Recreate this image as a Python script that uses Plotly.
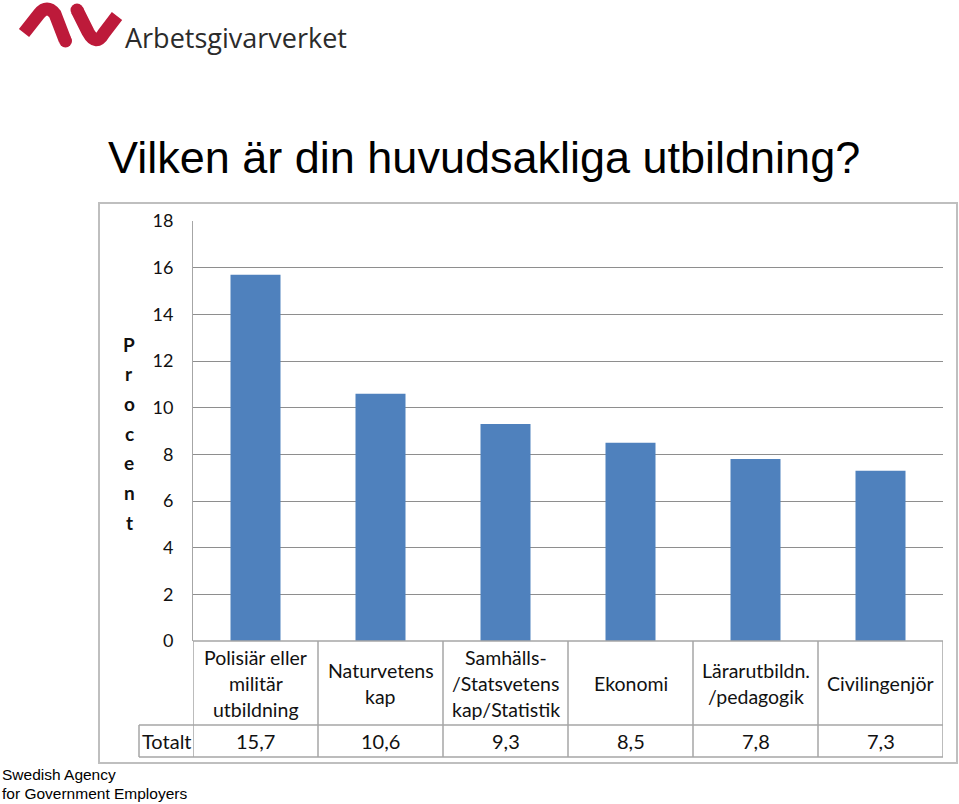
import plotly.graph_objects as go

W, H = 959, 804

categories = ["Polisiär eller<br>militär<br>utbildning", "Naturvetens<br>kap",
              "Samhälls-<br>/Statsvetens<br>kap/Statistik", "Ekonomi",
              "Lärarutbildn.<br>/pedagogik", "Civilingenjör"]
values = [15.7, 10.6, 9.3, 8.5, 7.8, 7.3]
value_labels = ["15,7", "10,6", "9,3", "8,5", "7,8", "7,3"]
y_ticks = [0, 2, 4, 6, 8, 10, 12, 14, 16, 18]
row_label = "Totalt"
y_title = "Procent"
title = "Vilken är din huvudsakliga utbildning?"
logo_text = "Arbetsgivarverket"
footer = ["Swedish Agency", "for Government Employers"]

def px(x):
    return x / W

def py(y):
    return 1 - y / H

PL, PR, PT, PB = 193, 943, 221, 641
ROW1_B, ROW2_B = 725, 757
TOT_L = 139

n = len(categories)
xs = list(range(n))

fig = go.Figure()
fig.add_trace(go.Bar(x=xs, y=values, width=0.4, marker_color="#4F81BD",
                     marker_line_width=0, hoverinfo="skip"))

font_cal = "Lato, Carlito, Calibri, sans-serif"
grid_col = "#8E8E8E"
tbl_col = "#A6A6A6"
txt_col = "#111111"

fig.update_layout(
    width=W, height=H, margin=dict(l=0, r=0, t=0, b=0, pad=0, autoexpand=False),
    paper_bgcolor="white", plot_bgcolor="white", showlegend=False,
    xaxis=dict(domain=[px(PL), px(PR)], range=[-0.5, n - 0.5], automargin=False,
               showticklabels=False, showgrid=False, zeroline=False,
               showline=False, fixedrange=True),
    yaxis=dict(domain=[py(PB), py(PT)], range=[0, 18], tickvals=y_ticks, automargin=False,
               ticktext=[str(v) for v in y_ticks], showgrid=True,
               gridcolor=grid_col, gridwidth=1, zeroline=False,
               showline=True, linecolor=tbl_col, linewidth=1,
               ticks="", ticklabelstandoff=15,
               tickfont=dict(family=font_cal, size=18, color=txt_col)),
)

shapes = []
shapes.append(dict(type="rect", xref="paper", yref="paper",
                   x0=px(99), x1=px(957), y0=py(763), y1=py(203),
                   line=dict(color="#BFBFBF", width=2)))
for yy, x0 in [(PB, PL), (ROW1_B, TOT_L), (ROW2_B, TOT_L)]:
    shapes.append(dict(type="line", xref="paper", yref="paper",
                       x0=px(x0), x1=px(PR), y0=py(yy), y1=py(yy),
                       line=dict(color=tbl_col, width=1.5)))
for i in range(n + 1):
    shapes.append(dict(type="line", xref="x", yref="paper",
                       x0=i - 0.5, x1=i - 0.5, y0=py(PB), y1=py(ROW2_B),
                       line=dict(color=tbl_col, width=1.5)))
shapes.append(dict(type="line", xref="paper", yref="paper",
                   x0=px(TOT_L), x1=px(TOT_L), y0=py(ROW1_B), y1=py(ROW2_B),
                   line=dict(color=tbl_col, width=1.5)))

# logo marks (pixel coords -> paper)
red = "#BD1A3A"
def pth(cmds):
    out = []
    for c in cmds:
        if isinstance(c, str):
            out.append(c)
        else:
            out.append("{:.5f},{:.5f}".format(px(c[0]), py(c[1])))
    return " ".join(out)

shapes.append(dict(type="path", xref="paper", yref="paper",
                   path=pth(["M", (24, 33), "L", (39, 14), "Q", (47, 4), (55, 14), "L", (65, 40)]),
                   line=dict(color=red, width=13)))
shapes.append(dict(type="path", xref="paper", yref="paper",
                   path=pth(["M", (77, 10), "L", (88, 32), "Q", (96, 47), (104, 33), "L", (117, 16)]),
                   line=dict(color=red, width=13)))
for cx, cy, r in [(65.5, 41, 6.5), (77, 10, 6.5)]:
    shapes.append(dict(type="circle", xref="paper", yref="paper",
                       x0=px(cx - r), x1=px(cx + r), y0=py(cy + r), y1=py(cy - r),
                       fillcolor=red, line=dict(width=0)))
fig.update_layout(shapes=shapes)

ann = []
row1_c = (PB + ROW1_B) / 2
lh = 26
for i, lab in enumerate(categories):
    lines = lab.split("<br>")
    k = len(lines)
    for j, ln in enumerate(lines):
        yc = row1_c + lh * (j - (k - 1) / 2)
        ann.append(dict(x=i, y=py(yc), xref="x", yref="paper", text=ln,
                        showarrow=False, xanchor="center", yanchor="middle",
                        font=dict(family=font_cal, size=19.5, color=txt_col)))
row2_c = (ROW1_B + ROW2_B) / 2
for i, vl in enumerate(value_labels):
    ann.append(dict(x=i, y=py(row2_c), xref="x", yref="paper", text=vl,
                    showarrow=False, xanchor="center", yanchor="middle",
                    font=dict(family=font_cal, size=20, color=txt_col)))
ann.append(dict(x=px(TOT_L + 1), y=py(row2_c), xref="paper", yref="paper",
                text=row_label, showarrow=False, xanchor="left", yanchor="middle",
                font=dict(family=font_cal, size=20, color=txt_col)))
for j, ch in enumerate(y_title):
    ann.append(dict(x=px(129), y=py(344 + 29.7 * j), xref="paper", yref="paper",
                    text="<b>" + (ch.lower() if j else ch.upper()) + "</b>",
                    showarrow=False, xanchor="center", yanchor="middle",
                    font=dict(family=font_cal, size=19, color=txt_col)))
ann.append(dict(x=px(106), y=py(158), xref="paper", yref="paper", text=title,
                showarrow=False, xanchor="left", yanchor="middle",
                font=dict(family="Liberation Sans, Arial, sans-serif", size=45, color="#000")))
ann.append(dict(x=px(123), y=py(37), xref="paper", yref="paper", text=logo_text,
                showarrow=False, xanchor="left", yanchor="middle",
                font=dict(family="Open Sans, sans-serif", size=27, color="#2B2B2B")))
for j, t in enumerate(footer):
    ann.append(dict(x=px(0), y=py(774 + 19 * j), xref="paper", yref="paper", text=t,
                    showarrow=False, xanchor="left", yanchor="middle",
                    font=dict(family="Liberation Sans, Arial, sans-serif", size=15.5, color="#000")))
fig.update_layout(annotations=ann)

fig.write_html("out.html")
